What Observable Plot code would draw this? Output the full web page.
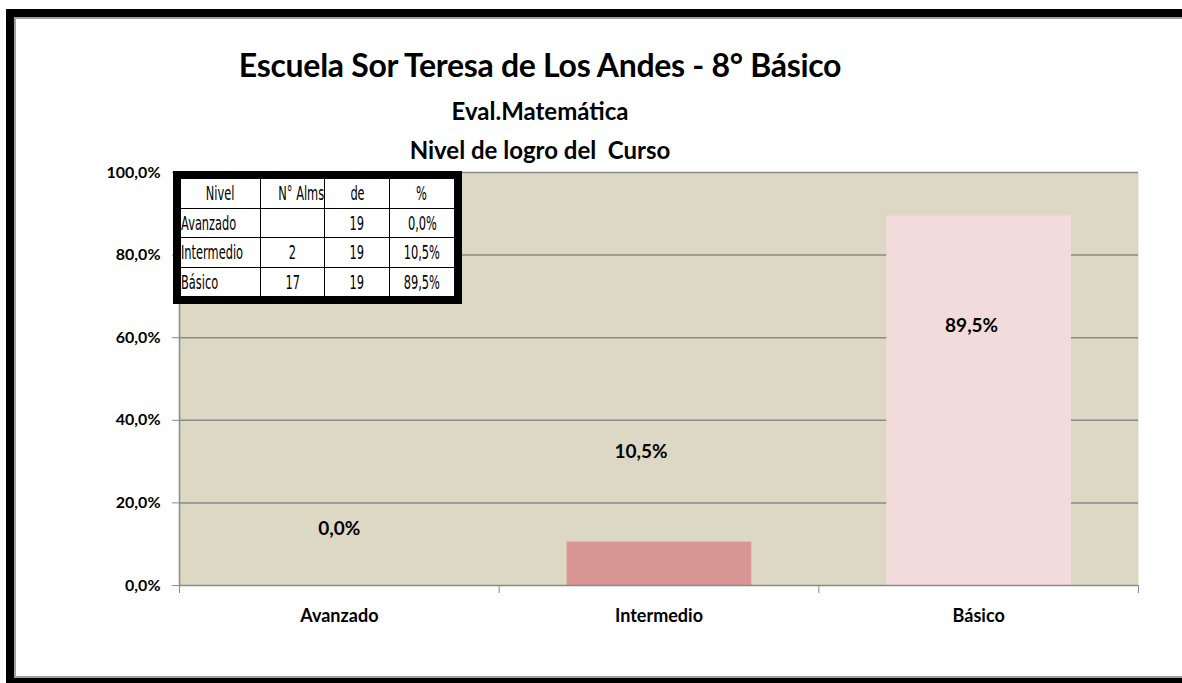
<!DOCTYPE html>
<html>
<head>
<meta charset="utf-8">
<script src="https://cdn.jsdelivr.net/npm/d3@7"></script>
<script src="https://cdn.jsdelivr.net/npm/@observablehq/plot@0.6"></script>
<style>
  html, body { margin: 0; padding: 0; background: #fff; }
  #wrap { position: relative; width: 1182px; height: 683px; overflow: hidden; font-family: Lato, "Open Sans", sans-serif; }
  #frame { position: absolute; left: 6px; top: 9px; width: 1220px; height: 677px; border: 8px solid #000; box-sizing: border-box; }
  #frame::after { content: ""; position: absolute; left: 0; top: 0; right: 0; bottom: 0; border: 2px solid #a0a0a0; }
  .ttl { position: absolute; left: 0; width: 1080px; text-align: center; font-weight: bold; color: #000; white-space: pre; }
  #t1 { top: 45px; font-size: 32px; letter-spacing: -0.3px; }
  #t2 { top: 96px; font-size: 24px; }
  #t3 { top: 135px; font-size: 24px; }
  #chart { position: absolute; left: 0; top: 0; }
  #tbl { position: absolute; left: 173px; top: 171px; border: 8px solid #000; background: #fff; }
  #tbl table { border-collapse: collapse; font-family: "DejaVu Sans", sans-serif; font-size: 20px; color: #000; }
  #tbl td { border: 1px solid #000; height: 28.5px; padding: 0; text-align: center; line-height: 20px; overflow: hidden; white-space: nowrap; }
  #tbl td span { display: inline-block; transform: scaleX(0.57); transform-origin: center; }
  #tbl td.l { text-align: left; }
  #tbl td.l span { transform-origin: left center; }
  #tbl tr:first-child td { border-top: none; }
  #tbl tr:last-child td { border-bottom: none; }
  #tbl td:first-child { border-left: none; }
  #tbl td:last-child { border-right: none; }
</style>
</head>
<body>
<div id="wrap">
  <div id="frame"></div>
  <div id="chart"></div>
  <div class="ttl" id="t1"></div>
  <div class="ttl" id="t2"></div>
  <div class="ttl" id="t3"></div>
  <div id="tbl"></div>
</div>
<script>
// ---- data ----
const title = "Escuela Sor Teresa de Los Andes - 8° Básico";
const subtitle1 = "Eval.Matemática";
const subtitle2 = "Nivel de logro del  Curso";
const categories = ["Avanzado", "Intermedio", "Básico"];
const percents = [0.0, 10.5, 89.5];
const students = [null, 2, 17];
const totals = [19, 19, 19];
const barColors = ["#D99594", "#D99594", "#F2DCDB"];
const yTicks = [0, 20, 40, 60, 80, 100];
const tableHeader = ["Nivel", "N° Alms", "de", "%"];
// data-label anchor points (as placed in the original chart), in data units
const labelX = [0.5, 1.444, 2.478];
const labelY = [13.6, 32.3, 62.8];

const fmt = v => v.toFixed(1).replace(".", ",") + "%";

document.getElementById("t1").textContent = title;
document.getElementById("t2").textContent = subtitle1;
document.getElementById("t3").textContent = subtitle2;

const bars = categories.map((c, i) => ({cat: c, i, v: percents[i], color: barColors[i]}));
const labels = categories.map((c, i) => ({x: labelX[i], y: labelY[i], t: fmt(percents[i])}));
const catLabels = categories.map((c, i) => ({x: i + 0.5, t: c}));

const plot = Plot.plot({
  width: 1182,
  height: 683,
  marginLeft: 179,
  marginRight: 44,
  marginTop: 172,
  marginBottom: 98,
  style: {background: "transparent", fontFamily: "Lato, 'Open Sans', sans-serif", overflow: "visible"},
  x: {type: "linear", domain: [0, categories.length]},
  y: {domain: [0, 100]},
  marks: [
    Plot.frame({fill: "#DDD8C3", stroke: null}),
    Plot.ruleY(yTicks.filter(d => d > 0), {stroke: "#8a8a8a", strokeWidth: 1.5}),
    Plot.rectY(bars, {x1: "i", x2: d => d.i + 1, y1: 0, y2: "v", fill: "color", insetLeft: 68, insetRight: 67}),
    Plot.ruleY([0], {stroke: "#8a8a8a", strokeWidth: 1.5}),
    Plot.ruleX([0], {stroke: "#8a8a8a", strokeWidth: 1.5}),
    Plot.axisY({ticks: yTicks, tickFormat: fmt, tickSize: 7, tickPadding: 12, stroke: "#8a8a8a",
      fontSize: 16, fontWeight: "bold", fill: "#000"}),
    Plot.axisX({ticks: d3.range(categories.length + 1), tickFormat: () => "", tickSize: 8, stroke: "#8a8a8a"}),
    Plot.text(catLabels, {x: "x", text: "t", frameAnchor: "bottom", dy: 36, fontSize: 18, fontWeight: "bold", fill: "#000"}),
    Plot.text(labels, {x: "x", y: "y", text: "t", fontSize: 19, fontWeight: "bold", fill: "#000"})
  ]
});
document.getElementById("chart").appendChild(plot);

// summary table
const rows = [tableHeader].concat(categories.map((c, i) => [
  c, students[i] == null ? "" : String(students[i]), String(totals[i]), fmt(percents[i])
]));
const colW = [80, 64, 65, 65];
const tbl = document.createElement("table");
rows.forEach((r, ri) => {
  const tr = document.createElement("tr");
  r.forEach((v, ci) => {
    const td = document.createElement("td");
    const sp = document.createElement("span");
    sp.textContent = v;
    td.appendChild(sp);
    td.style.width = (colW[ci] - 1) + "px";
    td.style.maxWidth = (colW[ci] - 1) + "px";
    if (ri > 0 && ci === 0) td.className = "l";
    tr.appendChild(td);
  });
  tbl.appendChild(tr);
});
document.getElementById("tbl").appendChild(tbl);
</script>
</body>
</html>
